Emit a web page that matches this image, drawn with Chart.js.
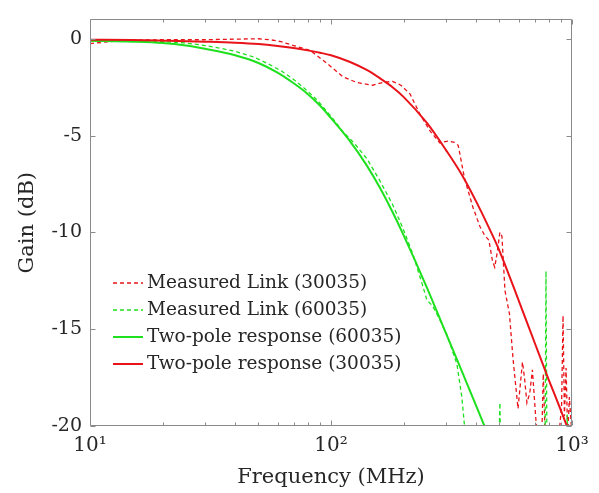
<!DOCTYPE html>
<html>
<head>
<meta charset="utf-8">
<script src="https://cdn.jsdelivr.net/npm/chart.js@4.4.1/dist/chart.umd.min.js"></script>
<style>
  html, body { margin: 0; padding: 0; background: #fff; }
</style>
</head>
<body>
<canvas id="gainChart" width="599" height="493"></canvas>
<script>
// values (frequency in MHz, gain in dB)
const redMeasFreq = [10, 12, 14, 20, 30, 40, 50, 56, 62, 70, 82, 96, 112, 128, 149, 164, 180, 195, 213, 234,
  258, 283, 306, 325, 337, 342, 358, 388, 415, 434, 452, 468, 478, 490, 502, 512, 527, 550, 569, 597,
  623, 635, 650, 668, 685, 703, 725, 745, 760, 778, 860, 905, 918, 930, 945, 960, 975, 1000];
const redMeasGain = [-0.25, -0.15, -0.08, -0.05, -0.05, -0.02, 0.0, -0.05, -0.15, -0.35, -0.6, -1.26, -1.96, -2.26, -2.4, -2.26, -2.2, -2.4, -2.86, -3.9,
  -4.77, -5.38, -5.28, -5.35, -5.5, -5.9, -7.2, -8.7, -9.7, -10.15, -10.4, -11.5, -11.8, -11.0, -10.0, -10.2, -13.0, -14.2, -16.5, -19.1,
  -16.7, -17.5, -18.8, -18.3, -17.1, -19.1, -21.5, -22, -17.3, -21.5, -22, -19, -14.3, -19.5, -17, -20.5, -18.5, -20.5];

const greenMeasFreq = [10, 15, 20, 25, 30, 35, 40, 48, 55, 62, 70, 80, 88, 100, 112, 125, 141, 159, 180, 199,
  219, 239, 250, 264, 280, 303, 333, 349, 360, 380, 490, 502, 512, 770, 780, 790, 948, 955, 962];
const greenMeasGain = [-0.1, -0.1, -0.15, -0.22, -0.35, -0.5, -0.65, -0.95, -1.3, -1.65, -2.1, -2.7, -3.2, -4.0, -4.8, -5.4, -6.2, -7.3, -8.55, -9.8,
  -11.15, -12.66, -13.5, -13.8, -14.4, -15.3, -16.8, -18.5, -20.3, -24, -25, -18.8, -25, -25, -12.0, -25, -25, -19.4, -25];

const greenFitFreq = [10, 15, 20, 25, 30, 40, 50, 60, 70, 80, 90, 100, 120, 140, 160, 180, 200, 250, 300, 350, 400, 450];
const greenFitGain = [-0.1, -0.15, -0.22, -0.35, -0.52, -0.85, -1.25, -1.75, -2.3, -2.85, -3.45, -4.1, -5.3, -6.5, -7.72, -8.95, -10.14, -12.85, -15.22, -17.2, -18.95, -20.5];

const redFitFreq = [10, 15, 20, 30, 40, 50, 60, 70, 80, 90, 100, 120, 140, 160, 180, 200, 250, 300, 350, 400, 450, 500, 600, 700, 800, 900, 1000];
const redFitGain = [-0.05, -0.07, -0.1, -0.15, -0.2, -0.27, -0.37, -0.48, -0.6, -0.72, -0.85, -1.2, -1.6, -2.05, -2.5, -3.0, -4.35, -5.75, -7.05, -8.4, -9.7, -10.95, -13.5, -15.7, -17.6, -19.2, -20.7];

const seriesNames = ['Measured Link (30035)', 'Measured Link (60035)', 'Two-pole response (60035)', 'Two-pole response (30035)'];

const yTicks = [-20, -15, -10, -5, 0];
const xTicks = [10, 100, 1000];
const xTickLabels = ['10\u00B9', '10\u00B2', '10\u00B3'];

const RED = '#e8141a';
const GREEN = '#1ee01e';
const SERIF = '"DejaVu Serif", serif';
const TEXT = '#262626';

function pts(xs, ys) {
  return xs.map((f, i) => ({ x: f, y: ys[i] }));
}

// MATLAB-like box with inward ticks
const frameTicks = {
  id: 'frameTicks',
  afterDatasetsDraw(chart) {
    const { ctx, chartArea: a, scales: { x, y } } = chart;
    const L = Math.round(a.left) + 0.5, R = Math.round(a.right) - 0.5;
    const T = Math.round(a.top) + 0.5, B = Math.round(a.bottom) - 0.5;
    ctx.save();
    ctx.strokeStyle = '#8a8a8a';
    ctx.lineWidth = 1;
    ctx.beginPath();
    ctx.moveTo(L, T); ctx.lineTo(R, T); ctx.lineTo(R, B); ctx.lineTo(L, B); ctx.closePath();
    xTicks.forEach(v => {
      const px = Math.round(x.getPixelForValue(v)) + 0.5;
      ctx.moveTo(px, B); ctx.lineTo(px, B - 5);
      ctx.moveTo(px, T); ctx.lineTo(px, T + 5);
    });
    [10, 100].forEach(dec => {
      for (let m = 2; m <= 9; m++) {
        const px = Math.round(x.getPixelForValue(m * dec)) + 0.5;
        ctx.moveTo(px, B); ctx.lineTo(px, B - 3);
        ctx.moveTo(px, T); ctx.lineTo(px, T + 3);
      }
    });
    yTicks.forEach(v => {
      const py = Math.round(y.getPixelForValue(v)) + 0.5;
      ctx.moveTo(L, py); ctx.lineTo(L + 5, py);
      ctx.moveTo(R, py); ctx.lineTo(R - 5, py);
    });
    ctx.stroke();
    ctx.restore();
  }
};

// legend inside the axes, lower-left
const innerLegend = {
  id: 'innerLegend',
  afterDraw(chart) {
    const { ctx } = chart;
    ctx.save();
    ctx.font = '18.5px ' + SERIF;
    ctx.textBaseline = 'middle';
    ctx.fillStyle = TEXT;
    chart.data.datasets.forEach((ds, i) => {
      const yy = 283 + i * 27;
      ctx.beginPath();
      ctx.strokeStyle = ds.borderColor;
      ctx.lineWidth = ds.borderWidth;
      ctx.setLineDash(ds.borderDash || []);
      ctx.moveTo(113, yy);
      ctx.lineTo(143, yy);
      ctx.stroke();
      ctx.setLineDash([]);
      ctx.fillText(ds.label, 147, yy);
    });
    ctx.restore();
  }
};

const ctx = document.getElementById('gainChart').getContext('2d');
const gainChart = new Chart(ctx, {
  type: 'line',
  data: {
    datasets: [
      { label: seriesNames[0], data: pts(redMeasFreq, redMeasGain), borderColor: RED, borderWidth: 1.3, borderDash: [4, 3], tension: 0, order: 3 },
      { label: seriesNames[1], data: pts(greenMeasFreq, greenMeasGain), borderColor: GREEN, borderWidth: 1.3, borderDash: [4, 3], tension: 0, order: 2 },
      { label: seriesNames[2], data: pts(greenFitFreq, greenFitGain), borderColor: GREEN, borderWidth: 2, cubicInterpolationMode: 'monotone', order: 1 },
      { label: seriesNames[3], data: pts(redFitFreq, redFitGain), borderColor: RED, borderWidth: 2, cubicInterpolationMode: 'monotone', order: 0 }
    ]
  },
  options: {
    responsive: false,
    animation: false,
    devicePixelRatio: 1,
    elements: { point: { radius: 0, hoverRadius: 0 } },
    layout: { padding: { left: 0, right: 27, top: 9, bottom: 0 } },
    plugins: { legend: { display: false }, tooltip: { enabled: false } },
    scales: {
      x: {
        type: 'logarithmic',
        min: 10,
        max: 1000,
        grid: { display: false, drawTicks: false },
        border: { display: false },
        afterBuildTicks: s => { s.ticks = xTicks.map(v => ({ value: v })); },
        afterFit: s => { s.height = 67; },
        ticks: {
          padding: 8,
          maxRotation: 0,
          autoSkip: false,
          color: TEXT,
          font: { family: SERIF, size: 20 },
          callback: v => xTickLabels[xTicks.indexOf(v)]
        },
        title: {
          display: true,
          text: 'Frequency (MHz)',
          color: TEXT,
          font: { family: SERIF, size: 21 },
          padding: { top: 0, bottom: 3 }
        }
      },
      y: {
        min: -20,
        max: 1,
        grid: { display: false, drawTicks: false },
        border: { display: false },
        afterBuildTicks: s => { s.ticks = yTicks.map(v => ({ value: v })); },
        afterFit: s => { s.width = 90; },
        ticks: {
          padding: 8,
          color: TEXT,
          font: { family: SERIF, size: 19 }
        },
        title: {
          display: true,
          text: 'Gain (dB)',
          color: TEXT,
          font: { family: SERIF, size: 21 },
          padding: { top: 15, bottom: 0 }
        }
      }
    }
  },
  plugins: [frameTicks, innerLegend]
});
</script>
</body>
</html>
